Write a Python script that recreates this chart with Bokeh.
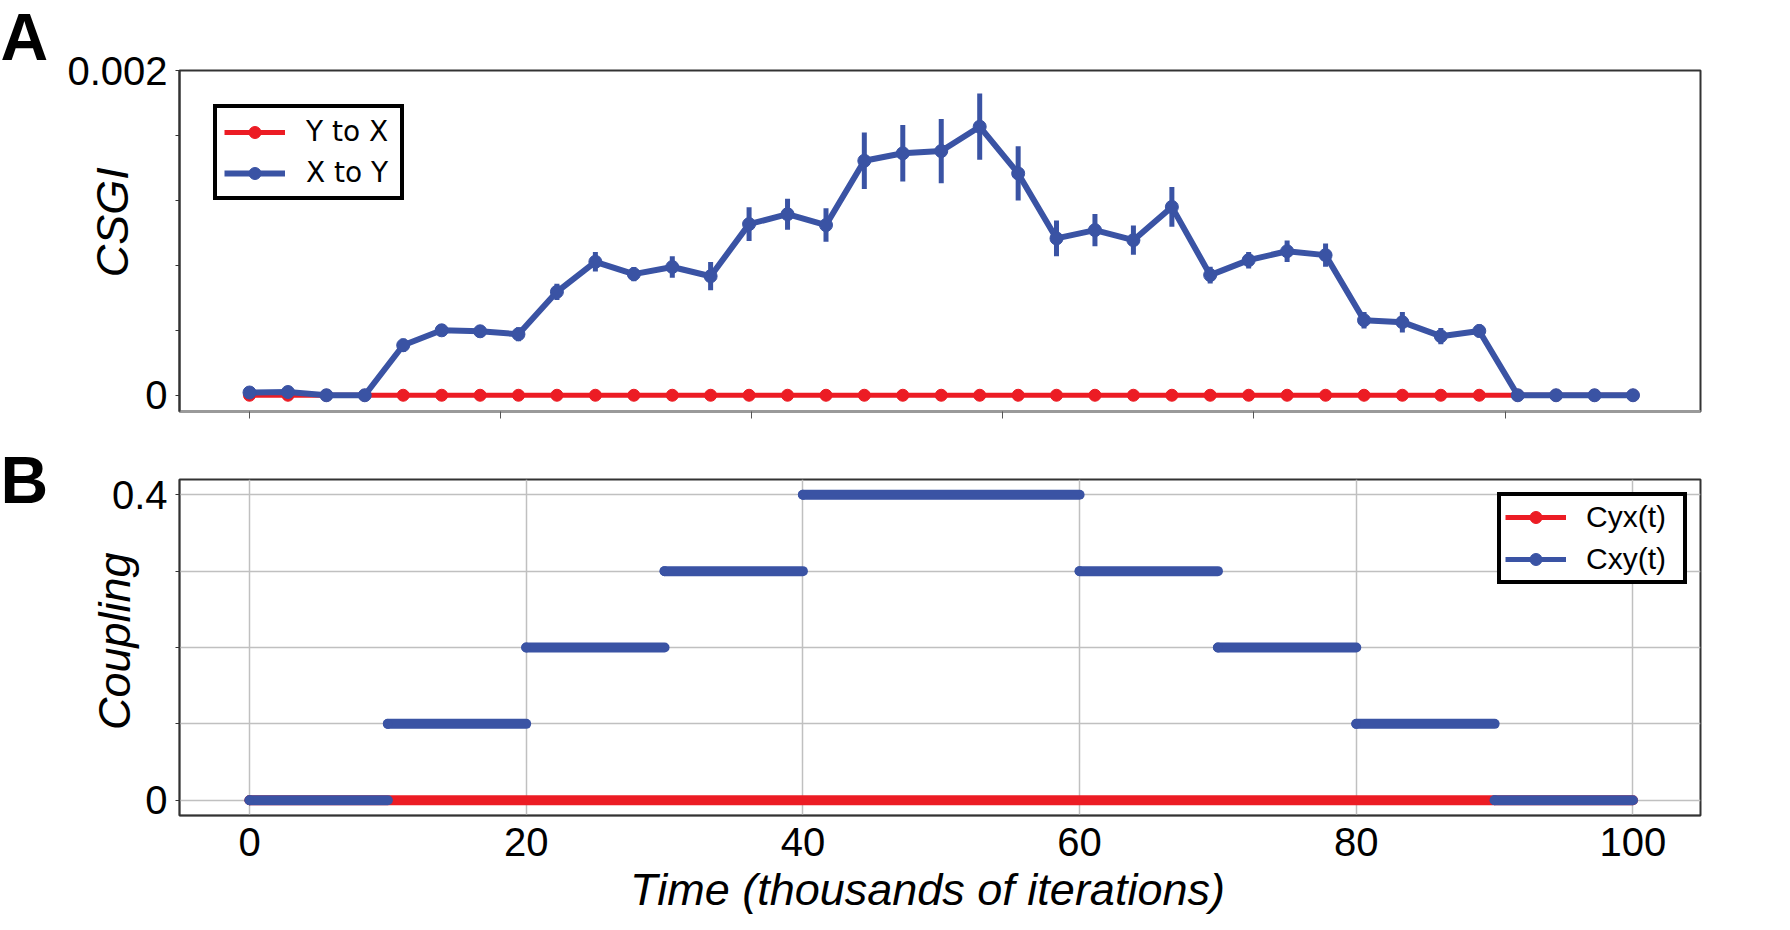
from bokeh.plotting import figure
from bokeh.models import (Range1d, FixedTicker, Legend, LegendItem, ColumnDataSource)
from bokeh.layouts import column, row
from bokeh.core.properties import value
from bokeh.embed import file_html
from bokeh.resources import INLINE

# ---------------- Panel A data (CSGI per window) ----------------
time_a = [0.00, 2.78, 5.56, 8.33, 11.11, 13.89, 16.67, 19.44, 22.22, 25.00,
          27.78, 30.56, 33.33, 36.11, 38.89, 41.67, 44.44, 47.22, 50.00, 52.78,
          55.56, 58.33, 61.11, 63.89, 66.67, 69.44, 72.22, 75.00, 77.78, 80.56,
          83.33, 86.11, 88.89, 91.67, 94.44, 97.22, 100.00]
csgi_y_to_x = [0, 0, 0, 0, 0, 0, 0, 0, 0, 0, 0, 0, 0, 0, 0, 0, 0, 0, 0, 0,
               0, 0, 0, 0, 0, 0, 0, 0, 0, 0, 0, 0, 0, 0, 0, 0, 0]
csgi_x_to_y = [0.000017, 0.00002, 0.0, 0.0, 0.000308, 0.0004, 0.000394, 0.000376,
               0.000637, 0.000822, 0.000746, 0.00079, 0.000733, 0.001054, 0.001115,
               0.001048, 0.001444, 0.00149, 0.001504, 0.001654, 0.001366, 0.000966,
               0.001017, 0.000955, 0.00116, 0.00074, 0.000832, 0.000887, 0.000863,
               0.000462, 0.00045, 0.000364, 0.000396, 0.0, 0.0, 0.0, 0.0]
err_x_to_y = [0.000012, 0.000012, 0.000005, 0.000005, 0.000041, 0.000037, 0.000037,
              0.000043, 0.00005, 0.00006, 0.000044, 0.000066, 0.000087, 0.000104,
              0.000095, 0.000103, 0.000174, 0.000174, 0.000198, 0.000204, 0.000167,
              0.00011, 0.000099, 0.00009, 0.000123, 0.000051, 0.000051, 0.000066,
              0.000072, 0.000051, 0.000063, 0.00005, 0.000041, 0.0, 0.0, 0.0, 0.0]
xticks_a = [0, 18.15, 36.3, 54.45, 72.6, 90.75]
yticks_a_labelled = [0, 0.002]
yticks_a_minor = [0.0004, 0.0008, 0.0012, 0.0016]

# ---------------- Panel B data (coupling schedule) ----------------
cyx_start = [0]
cyx_end = [100]
cyx_value = [0]
cxy_start = [0, 10, 20, 30, 40, 60, 70, 80, 90]
cxy_end = [10, 20, 30, 40, 60, 70, 80, 90, 100]
cxy_value = [0, 0.1, 0.2, 0.3, 0.4, 0.3, 0.2, 0.1, 0]
xticks_b = [0, 20, 40, 60, 80, 100]
yticks_b_labelled = [0, 0.4]
yticks_b_minor = [0.1, 0.2, 0.3]

panel_letters = ["A", "B"]

RED = "#ec1c24"
BLUE = "#3a53a4"
FONT = "Liberation Sans"
X_RANGE = (-5.06, 104.88)
NB = "\u00a0"  # non-breaking space used to nudge axis-label placement


def style_yaxis(ax, label, standoff):
    ax.major_label_text_font = FONT
    ax.major_label_text_font_size = "40px"
    ax.major_label_text_color = "black"
    ax.major_tick_out = 4
    ax.major_tick_in = 0
    ax.minor_tick_out = 4
    ax.minor_tick_in = 0
    ax.major_tick_line_color = "#333333"
    ax.minor_tick_line_color = "#333333"
    ax.major_label_standoff = 8
    ax.axis_label = label
    ax.axis_label_text_font = FONT
    ax.axis_label_text_font_style = "italic"
    ax.axis_label_text_font_size = "45px"
    ax.axis_label_text_color = "black"
    ax.axis_label_standoff = standoff


# ================= Panel-letter strip =================
pl = figure(width=60, height=920, x_range=Range1d(0, 60), y_range=Range1d(920, 0),
            output_backend="svg", toolbar_location=None, min_border=0,
            x_axis_location=None, y_axis_location=None)
pl.grid.visible = False
pl.outline_line_color = None
pl.text(x=[0, 0], y=[36, 479], text=panel_letters, text_font=value(FONT),
        text_font_style="bold", text_font_size="66px", text_color="black",
        text_baseline="alphabetic", text_align="left")

# ================= Panel A =================
pa = figure(width=1708, height=440, x_range=Range1d(*X_RANGE),
            y_range=Range1d(-0.0001, 0.002), output_backend="svg",
            toolbar_location=None, min_border_left=119, min_border_right=68,
            min_border_top=70, min_border_bottom=29)
pa.grid.visible = False
pa.outline_line_color = "#333333"
pa.outline_line_width = 2

src_a = ColumnDataSource(dict(
    t=time_a, yx=csgi_y_to_x, xy=csgi_x_to_y,
    xy_lo=[v - e for v, e in zip(csgi_x_to_y, err_x_to_y)],
    xy_hi=[v + e for v, e in zip(csgi_x_to_y, err_x_to_y)]))

r_red_line = pa.line("t", "yx", source=src_a, line_color=RED, line_width=5)
r_red_pts = pa.scatter("t", "yx", source=src_a, size=12, fill_color=RED, line_color=RED)
pa.segment("t", "xy_lo", "t", "xy_hi", source=src_a, line_color=BLUE, line_width=5)
r_blue_line = pa.line("t", "xy", source=src_a, line_color=BLUE, line_width=6)
r_blue_pts = pa.scatter("t", "xy", source=src_a, size=13, fill_color=BLUE, line_color=BLUE)

pa.yaxis.ticker = FixedTicker(ticks=yticks_a_labelled, minor_ticks=yticks_a_minor)
style_yaxis(pa.yaxis[0], NB * 3 + "CSGI", -74)
pa.yaxis.axis_line_color = "#333333"
pa.yaxis.axis_line_width = 2

pa.xaxis.ticker = FixedTicker(ticks=[], minor_ticks=xticks_a)
pa.xaxis.axis_line_color = "#9a9a9a"
pa.xaxis.axis_line_width = 3
pa.xaxis.minor_tick_out = 7
pa.xaxis.minor_tick_in = 0
pa.xaxis.minor_tick_line_color = "#555555"

legend_a = Legend(items=[
    LegendItem(label="Y to X", renderers=[r_red_line, r_red_pts]),
    LegendItem(label="X to Y", renderers=[r_blue_line, r_blue_pts])],
    location="top_left", margin=34, padding=7, spacing=8,
    glyph_width=61, glyph_height=30, label_standoff=21, label_width=87,
    label_text_font="DejaVu Sans", label_text_font_size="28px",
    label_text_color="black",
    border_line_color="black", border_line_width=4, border_line_alpha=1,
    background_fill_alpha=1)
pa.add_layout(legend_a)

# ================= Panel B =================
pb = figure(width=1708, height=480, x_range=Range1d(*X_RANGE),
            y_range=Range1d(-0.02, 0.42), output_backend="svg",
            toolbar_location=None, min_border_left=119, min_border_right=68,
            min_border_top=39, min_border_bottom=105)
pb.outline_line_color = "#333333"
pb.outline_line_width = 2

pb.xaxis.ticker = FixedTicker(ticks=xticks_b)
pb.yaxis.ticker = FixedTicker(ticks=yticks_b_labelled, minor_ticks=yticks_b_minor)
pb.grid.grid_line_color = "#c0c0c0"
pb.grid.grid_line_width = 1.5
pb.ygrid.minor_grid_line_color = "#c0c0c0"
pb.ygrid.minor_grid_line_width = 1.5

src_yx = ColumnDataSource(dict(x0=cyx_start, x1=cyx_end, y=cyx_value))
src_xy = ColumnDataSource(dict(x0=cxy_start, x1=cxy_end, y=cxy_value))

# thin lines (legend glyph) hidden under the thick schedule bars
r_yx_leg = pb.multi_line(xs=[[a, b] for a, b in zip(cyx_start, cyx_end)],
                         ys=[[v, v] for v in cyx_value], line_color=RED, line_width=5)
pb.segment("x0", "y", "x1", "y", source=src_yx, line_color=RED, line_width=10,
           line_cap="round")
r_yx_pts = pb.scatter("x0", "y", source=src_yx, size=9, fill_color=RED, line_color=RED)
r_xy_leg = pb.multi_line(xs=[[a, b] for a, b in zip(cxy_start, cxy_end)],
                         ys=[[v, v] for v in cxy_value], line_color=BLUE, line_width=5)
pb.segment("x0", "y", "x1", "y", source=src_xy, line_color=BLUE, line_width=10,
           line_cap="round")
r_xy_pts = pb.scatter("x0", "y", source=src_xy, size=9, fill_color=BLUE, line_color=BLUE)

style_yaxis(pb.yaxis[0], NB + "Coupling", -31)
pb.yaxis.axis_line_color = "#333333"
pb.yaxis.axis_line_width = 1.5

pb.xaxis.major_label_text_font = FONT
pb.xaxis.major_label_text_font_size = "40px"
pb.xaxis.major_label_text_color = "black"
pb.xaxis.major_tick_out = 0
pb.xaxis.major_tick_in = 0
pb.xaxis.minor_tick_line_color = None
pb.xaxis.major_label_standoff = 12
pb.xaxis.axis_line_color = "#333333"
pb.xaxis.axis_line_width = 1.5
pb.xaxis.axis_label = "Time (thousands of iterations)" + NB * 2
pb.xaxis.axis_label_text_font = FONT
pb.xaxis.axis_label_text_font_style = "italic"
pb.xaxis.axis_label_text_font_size = "45px"
pb.xaxis.axis_label_text_color = "black"
pb.xaxis.axis_label_standoff = 5

legend_b = Legend(items=[
    LegendItem(label="Cyx(t)", renderers=[r_yx_leg, r_yx_pts]),
    LegendItem(label="Cxy(t)", renderers=[r_xy_leg, r_xy_pts])],
    location="top_right", margin=13, padding=4, spacing=8,
    glyph_width=61, glyph_height=30, label_standoff=20, label_width=93,
    label_text_font=FONT, label_text_font_size="30px", label_text_color="black",
    border_line_color="black", border_line_width=4, border_line_alpha=1,
    background_fill_alpha=1)
pb.add_layout(legend_b)

layout = row(pl, column(pa, pb, spacing=0), spacing=0)
open("out.html", "w").write(file_html(layout, INLINE))
